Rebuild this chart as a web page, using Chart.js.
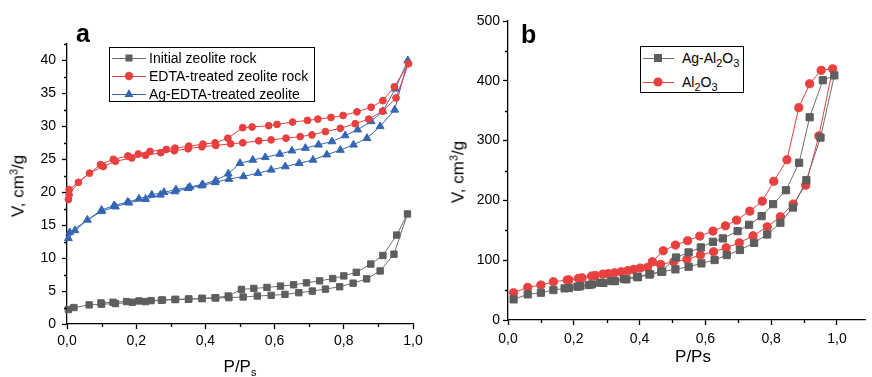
<!DOCTYPE html>
<html>
<head>
<meta charset="utf-8">
<script src="https://cdn.jsdelivr.net/npm/chart.js@4.4.0/dist/chart.umd.min.js"></script>
<style>
    body { margin: 0; background: #fff; width: 872px; height: 377px; position: relative; overflow: hidden;
           font-family: "Liberation Sans", Arial, sans-serif; color: #000; }
    canvas { position: absolute; top: 0; }
    #chartA { left: 0; }
    #chartB { left: 436px; }
    .txt { position: absolute; white-space: nowrap; }
    .letter { font-weight: bold; font-size: 25px; line-height: 25px; }
    .ytitle { font-size: 17px; line-height: 20px; transform: translate(-50%, -50%) rotate(-90deg); }
    .xtitle { font-size: 17px; line-height: 17px; transform: translateX(-50%); }
    .sub { font-size: 11px; position: relative; top: 4px; }
    .sup { font-size: 11px; position: relative; top: -6px; }
    .legend { position: absolute; box-sizing: border-box; border: 1px solid #000; background: #fff; }
    .row { position: absolute; left: 0; right: 0; height: 18px; line-height: 18px; font-size: 14px; }
    .row .ln { position: absolute; height: 1px; top: 9px; }
    .row svg { position: absolute; top: 2px; }
    .row span.lab { position: absolute; top: 0; }
</style>
</head>
<body>
<canvas id="chartA" width="436" height="377"></canvas>
<canvas id="chartB" width="436" height="377"></canvas>

<div class="txt letter" style="left:76px;top:21px">a</div>
<div class="txt letter" style="left:521px;top:22px">b</div>

<div class="txt ytitle" style="left:19px;top:186px">V, cm<span class="sup">3</span>/g</div>
<div class="txt ytitle" style="left:459px;top:172px">V, cm<span class="sup">3</span>/g</div>
<div class="txt xtitle" style="left:240px;top:358px">P/P<span class="sub">s</span></div>
<div class="txt xtitle" style="left:693px;top:348px">P/Ps</div>

<div class="legend" style="left:109px;top:47px;width:206px;height:55px">
    <div class="row" style="top:1px">
        <div class="ln" style="left:2px;width:34px;background:#6e6e6e"></div>
        <svg width="14" height="14" style="left:12px"><rect x="3.5" y="3.5" width="7" height="7" fill="#5e5e5e"/></svg>
        <span class="lab" style="left:39px">Initial zeolite rock</span>
    </div>
    <div class="row" style="top:19px">
        <div class="ln" style="left:2px;width:34px;background:#e8403f"></div>
        <svg width="14" height="14" style="left:12px"><circle cx="7" cy="7" r="4.2" fill="#e8403f"/></svg>
        <span class="lab" style="left:39px">EDTA-treated zeolite rock</span>
    </div>
    <div class="row" style="top:37px">
        <div class="ln" style="left:2px;width:34px;background:#3466b4"></div>
        <svg width="14" height="14" style="left:12px"><polygon points="7,2 11.5,10 2.5,10" fill="#3466b4"/></svg>
        <span class="lab" style="left:39px">Ag-EDTA-treated zeolite</span>
    </div>
</div>

<div class="legend" style="left:640px;top:46px;width:104px;height:47px">
    <div class="row" style="top:2px">
        <div class="ln" style="left:2px;width:31px;background:#6e6e6e"></div>
        <svg width="14" height="14" style="left:10px"><rect x="3" y="3" width="8" height="8" fill="#5e5e5e"/></svg>
        <span class="lab" style="left:41px">Ag-Al<span class="sub">2</span>O<span class="sub">3</span></span>
    </div>
    <div class="row" style="top:26px">
        <div class="ln" style="left:2px;width:31px;background:#e8403f"></div>
        <svg width="14" height="14" style="left:10px"><circle cx="7" cy="7" r="4.6" fill="#e8403f"/></svg>
        <span class="lab" style="left:41px">Al<span class="sub">2</span>O<span class="sub">3</span></span>
    </div>
</div>

<script>
// ---- panel a : zeolites (adsorption branch, then desorption branch) ----
var initAdsP = [0.004, 0.02, 0.064, 0.10, 0.14, 0.189, 0.227, 0.273, 0.312, 0.351, 0.391, 0.43, 0.468, 0.509, 0.55, 0.59, 0.63, 0.67, 0.709, 0.747, 0.788, 0.827, 0.866, 0.905, 0.945, 0.984];
var initAdsV = [2.2, 2.5, 2.9, 3.0, 3.1, 3.3, 3.4, 3.6, 3.7, 3.75, 3.85, 3.95, 4.0, 4.1, 4.25, 4.35, 4.5, 4.75, 5.0, 5.3, 5.65, 6.2, 6.85, 8.05, 10.6, 16.7];
var initDesP = [0.953, 0.913, 0.878, 0.836, 0.80, 0.768, 0.73, 0.692, 0.655, 0.617, 0.578, 0.54, 0.504, 0.466, 0.428, 0.39, 0.352, 0.314, 0.276, 0.243, 0.208, 0.172, 0.133, 0.098];
var initDesV = [13.5, 10.4, 9.1, 7.85, 7.3, 6.9, 6.55, 6.25, 5.95, 5.75, 5.55, 5.4, 5.25, 4.25, 4.0, 3.9, 3.8, 3.75, 3.65, 3.55, 3.5, 3.4, 3.3, 3.2];

var edtaAdsP = [0.004, 0.006, 0.033, 0.065, 0.105, 0.14, 0.187, 0.227, 0.271, 0.31, 0.35, 0.39, 0.43, 0.473, 0.508, 0.554, 0.59, 0.633, 0.674, 0.708, 0.747, 0.79, 0.833, 0.872, 0.912, 0.951, 0.987];
var edtaAdsV = [18.9, 19.6, 21.5, 22.9, 23.9, 24.7, 25.2, 25.6, 26.0, 26.3, 26.6, 26.9, 27.1, 27.35, 27.5, 27.8, 27.95, 28.2, 28.45, 28.7, 29.2, 29.7, 30.4, 31.1, 32.3, 34.3, 39.5];
var edtaDesP = [0.946, 0.913, 0.879, 0.838, 0.798, 0.763, 0.725, 0.695, 0.652, 0.607, 0.583, 0.535, 0.508, 0.465, 0.428, 0.393, 0.352, 0.312, 0.287, 0.24, 0.206, 0.176, 0.134, 0.097, 0.006];
var edtaDesV = [36.0, 33.9, 32.9, 32.2, 31.65, 31.35, 31.1, 30.9, 30.65, 30.3, 30.1, 29.9, 29.8, 28.2, 27.5, 27.3, 27.0, 26.7, 26.5, 26.2, 25.8, 25.5, 25.0, 24.2, 20.4];

var agAdsP = [0.004, 0.023, 0.059, 0.10, 0.14, 0.179, 0.227, 0.27, 0.312, 0.35, 0.389, 0.428, 0.468, 0.51, 0.552, 0.59, 0.631, 0.671, 0.711, 0.751, 0.79, 0.828, 0.867, 0.905, 0.947, 0.985];
var agAdsV = [13.0, 14.2, 15.8, 17.1, 17.8, 18.4, 18.95, 19.6, 20.1, 20.6, 21.0, 21.5, 22.0, 22.4, 22.9, 23.4, 23.9, 24.4, 24.9, 25.7, 26.4, 27.2, 28.2, 30.0, 32.5, 40.0];
var agDesP = [0.949, 0.913, 0.879, 0.84, 0.804, 0.766, 0.727, 0.689, 0.65, 0.615, 0.573, 0.537, 0.5, 0.466, 0.43, 0.392, 0.355, 0.315, 0.28, 0.245, 0.208, 0.175, 0.136, 0.10, 0.008];
var agDesV = [35.7, 32.3, 30.75, 29.5, 28.6, 27.7, 27.2, 26.7, 26.3, 25.8, 25.3, 24.9, 24.4, 22.8, 21.8, 21.2, 20.8, 20.4, 20.0, 19.6, 19.0, 18.5, 18.0, 17.3, 13.9];

// ---- panel b : alumina ----
var agAlAdsP = [0.017, 0.06, 0.10, 0.138, 0.172, 0.211, 0.246, 0.279, 0.314, 0.352, 0.392, 0.432, 0.469, 0.509, 0.549, 0.588, 0.628, 0.665, 0.705, 0.748, 0.788, 0.828, 0.866, 0.907, 0.95, 0.992];
var agAlAdsV = [34.5, 42.9, 45.6, 50.1, 52.9, 55.7, 58.5, 62.4, 65.2, 68.5, 72.4, 76.9, 80.8, 84.7, 89.1, 94.7, 100.3, 108.6, 117, 129, 143, 162.6, 188, 233.8, 305, 409];
var agAlDesP = [0.957, 0.917, 0.885, 0.845, 0.806, 0.771, 0.733, 0.698, 0.653, 0.623, 0.586, 0.549, 0.511, 0.466, 0.43, 0.395, 0.36, 0.325, 0.29, 0.255, 0.22, 0.185];
var agAlDesV = [401, 339, 263, 217, 193.7, 173.7, 159.2, 148.6, 136.4, 130.8, 121.4, 113, 104.5, 80.7, 76, 71.5, 68, 65, 62, 59.5, 56.5, 53.5];

var alAdsP = [0.017, 0.06, 0.10, 0.138, 0.18, 0.214, 0.254, 0.289, 0.324, 0.364, 0.402, 0.464, 0.504, 0.544, 0.585, 0.625, 0.663, 0.703, 0.745, 0.788, 0.828, 0.867, 0.905, 0.945, 0.987];
var alAdsV = [45.6, 54.6, 58.5, 64, 66.8, 69.6, 73.5, 76.8, 79, 82.4, 86.9, 93, 97.4, 101.3, 108.6, 114.1, 120.8, 129.1, 140.8, 155.8, 172.6, 194, 225.5, 307.8, 420];
var alDesP = [0.952, 0.917, 0.884, 0.848, 0.808, 0.773, 0.735, 0.695, 0.661, 0.623, 0.583, 0.546, 0.509, 0.472, 0.439, 0.424, 0.382, 0.344, 0.305, 0.265, 0.225, 0.185];
var alDesV = [417.5, 395, 355, 268, 232, 198.7, 182, 167, 157.5, 148.7, 140.3, 132.5, 125.3, 115.8, 97.4, 88, 84.7, 80.7, 77.5, 74.5, 70.5, 67];

Chart.defaults.font.family = '"Liberation Sans", Arial, sans-serif';
Chart.defaults.color = '#000';

function toPoints(adsP, adsV, desP, desV) {
    var pts = [];
    for (var i = 0; i < adsP.length; i++) pts.push({x: adsP[i], y: adsV[i]});
    for (var j = 0; j < desP.length; j++) pts.push({x: desP[j], y: desV[j]});
    return pts;
}

function series(label, points, color, lineColor, style, radius) {
    return {
        label: label,
        data: points,
        showLine: true,
        borderColor: lineColor,
        borderWidth: 1,
        backgroundColor: color,
        pointStyle: style,
        pointRadius: radius,
        pointHoverRadius: radius,
        pointBackgroundColor: color,
        pointBorderColor: color,
        pointBorderWidth: 1,
        clip: false
    };
}

function commaLabel(value) {
    return Number(value).toFixed(1).replace('.', ',');
}

// small unlabeled ticks half way between the labeled ones
var minorTicks = {
    id: 'minorTicks',
    afterDraw: function (chart, args, opts) {
        var ctx = chart.ctx;
        var area = chart.chartArea;
        ctx.save();
        ctx.strokeStyle = '#000';
        ctx.lineWidth = 1.3;
        ctx.beginPath();
        var xs = chart.scales.x, ys = chart.scales.y;
        for (var k = 1; k * opts.x <= xs.max + 1e-9; k += 2) {
            var px = Math.round(xs.getPixelForValue(k * opts.x)) + 0.5;
            ctx.moveTo(px, area.bottom);
            ctx.lineTo(px, area.bottom + 3);
        }
        for (var m = 1; m * opts.y <= ys.max + 1e-9; m += 2) {
            var py = Math.round(ys.getPixelForValue(m * opts.y)) + 0.5;
            ctx.moveTo(area.left, py);
            ctx.lineTo(area.left - 3, py);
        }
        ctx.stroke();
        ctx.restore();
    }
};

function axis(min, max, step, padding, fit, isX, labelFn) {
    return {
        type: 'linear',
        min: min,
        max: max,
        ticks: {
            stepSize: step,
            includeBounds: false,
            autoSkip: false,
            maxRotation: 0,
            padding: padding,
            color: '#000',
            font: {size: 14},
            callback: labelFn
        },
        grid: {drawOnChartArea: false, tickLength: 5, tickColor: '#000', tickWidth: 1.3},
        border: {color: '#000', width: 1.3},
        afterFit: function (scale) {
            if (isX) { scale.height = fit; } else { scale.width = fit; }
        }
    };
}

new Chart(document.getElementById('chartA'), {
    type: 'scatter',
    data: {
        datasets: [
            series('Initial zeolite rock', toPoints(initAdsP, initAdsV, initDesP, initDesV), '#5e5e5e', '#6e6e6e', 'rect', 4.5),
            series('EDTA-treated zeolite rock', toPoints(edtaAdsP, edtaAdsV, edtaDesP, edtaDesV), '#e8403f', '#e8403f', 'circle', 3.4),
            series('Ag-EDTA-treated zeolite', toPoints(agAdsP, agAdsV, agDesP, agDesV), '#3466b4', '#3466b4', 'triangle', 4.5)
        ]
    },
    options: {
        responsive: false,
        animation: false,
        events: [],
        layout: {padding: {left: 0, top: 44, right: 23, bottom: 0}},
        plugins: {legend: {display: false}, tooltip: {enabled: false}, minorTicks: {x: 0.1, y: 2.5}},
        scales: {
            x: axis(0, 1, 0.2, 4, 53, true, commaLabel),
            y: axis(0, 42.5, 5, 6, 67, false, function (v) { return v; })
        }
    },
    plugins: [minorTicks]
});

new Chart(document.getElementById('chartB'), {
    type: 'scatter',
    data: {
        datasets: [
            series('Ag-Al2O3', toPoints(agAlAdsP, agAlAdsV, agAlDesP, agAlDesV), '#5e5e5e', '#6e6e6e', 'rect', 5.1),
            series('Al2O3', toPoints(alAdsP, alAdsV, alDesP, alDesV), '#e8403f', '#e8403f', 'circle', 4.1)
        ]
    },
    options: {
        responsive: false,
        animation: false,
        events: [],
        layout: {padding: {left: 0, top: 21, right: 0, bottom: 0}},
        plugins: {legend: {display: false}, tooltip: {enabled: false}, minorTicks: {x: 0.1, y: 50}},
        scales: {
            x: axis(0, 1.088, 0.2, 6, 57, true, commaLabel),
            y: axis(0, 500, 100, 3, 72, false, function (v) { return v; })
        }
    },
    plugins: [minorTicks]
});
</script>
</body>
</html>
